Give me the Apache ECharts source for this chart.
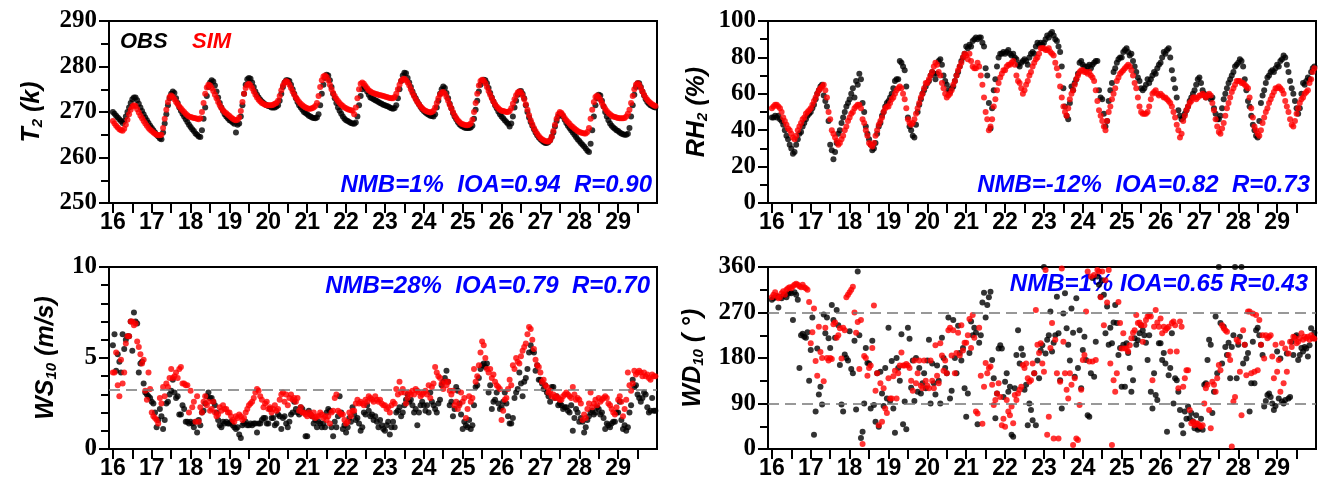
<!DOCTYPE html>
<html>
<head>
<meta charset="utf-8">
<script src="https://cdn.jsdelivr.net/npm/echarts@6/dist/echarts.min.js"></script>
<style>
  html, body { margin: 0; padding: 0; background: #fff; }
  #chart { width: 1325px; height: 494px; }
</style>
</head>
<body>
<div id="chart"></div>
<script>
// hourly series, first value at day 16 00:00
const startDay = 16
const dayLabels = [16, 17, 18, 19, 20, 21, 22, 23, 24, 25, 26, 27, 28, 29]
const halfDayTicks = [16, 16.5, 17, 17.5, 18, 18.5, 19, 19.5, 20, 20.5, 21, 21.5, 22, 22.5, 23, 23.5, 24, 24.5, 25, 25.5, 26, 26.5, 27, 27.5, 28, 28.5, 29, 29.5]

const t2Obs = [
  270, 269.6, 269.2, 268.8, 268.4, 268, 267.6, 268, 269, 270, 271, 272, 272.8, 273.2, 273.2, 272.6, 271.8, 271, 270.2, 269.5, 268.8, 268.2, 267.6, 267,
  266.5, 266, 265.5, 265, 264.6, 264.2, 264, 265.5, 267.5, 269.5, 271.5, 273, 274, 274.5, 274.2, 273, 272, 271, 270.3, 269.6, 269, 268.4, 267.8, 267.2,
  266.7, 266.2, 265.8, 265.3, 265, 264.6, 264.5, 266, 268.5, 271, 273.5, 275.5, 276.5, 277, 276.7, 275.8, 274.5, 273.2, 272, 271, 270.2, 269.5, 269, 268.6,
  268.2, 268, 267.7, 267.4, 265.5, 267.2, 267.5, 269, 271.5, 274, 276, 277.2, 277.5, 277.3, 276.5, 275.5, 274.5, 273.8, 273.2, 272.7, 272.3, 272, 271.7, 271.5,
  271.3, 271.2, 271, 271, 271, 271.2, 271.5, 272.5, 274, 275.5, 276.5, 277, 277, 276.8, 276, 275, 274, 273, 272.2, 271.5, 271, 270.5, 270, 269.8,
  269.5, 269.2, 269, 268.8, 268.7, 268.6, 268.8, 269.5, 271.5, 274, 276, 277.5, 278.2, 278, 277, 275.5, 274, 273, 272, 271, 270.3, 269.6, 269, 268.5,
  268.2, 268, 267.8, 267.6, 267.5, 267.4, 267.7, 269, 271.5, 273.5, 275, 275.6, 275.3, 274.5, 273.8, 273.2, 273, 272.8, 272.6, 272.4, 272.2, 272, 271.8, 271.6,
  271.5, 271.3, 271.2, 271, 270.8, 270.7, 270.9, 271.5, 273, 275, 276.8, 278, 278.6, 278.5, 277.5, 276.5, 275.5, 274.5, 273.7, 273, 272.3, 271.7, 271.1, 270.6,
  270.2, 269.9, 269.6, 269.4, 269.2, 269.1, 269, 269.5, 271, 272.5, 274, 275, 275.6, 275.3, 274.2, 273, 271.8, 270.8, 269.8, 269, 268.4, 267.8, 267.3, 267,
  266.8, 266.6, 266.5, 266.5, 266.5, 266.6, 267, 268.5, 270.5, 272.5, 274.5, 276, 276.8, 277.1, 277, 276.3, 275.3, 274.2, 273.2, 272.3, 271.5, 270.8, 270.1, 269.5,
  269, 268.6, 268.2, 267.8, 267.4, 266.8, 267.5, 269, 271, 272.5, 273.8, 274.5, 274.6, 274, 273, 271.5, 270, 268.8, 267.8, 267, 266.2, 265.5, 264.9, 264.4,
  264, 263.7, 263.4, 263.2, 263.2, 263.4, 263.8, 264.5, 265.5, 266.8, 268, 269, 269.6, 269.5, 269, 268.3, 267.6, 267, 266.5, 266, 265.5, 265, 264.5, 264,
  263.6, 263.2, 262.8, 262.4, 262, 261.5, 261.2, 263, 266, 269, 271.5, 273, 273.8, 273.6, 272.5, 271.2, 270, 269, 268.2, 267.5, 267, 266.6, 266.3, 266,
  265.8, 265.5, 265.3, 265.1, 265, 265, 265.2, 266.5, 269, 271.5, 273.8, 275.5, 276.3, 276.3, 275.5, 274.5, 273.6, 272.8, 272.2, 271.8, 271.5, 271.3, 271.1, 271
]
const t2Sim = [
  268, 267.5, 267, 266.6, 266.2, 266, 265.9, 266.3, 267.2, 268.3, 269.5, 270.5, 271.2, 271.5, 271.3, 270.6, 269.9, 269.2, 268.6, 268, 267.5, 267, 266.5, 266.1,
  265.8, 265.5, 265.2, 265, 264.9, 264.9, 265, 266.5, 268.5, 270.5, 272.2, 273.3, 273.6, 273.3, 272.8, 272.2, 271.7, 271.2, 270.8, 270.4, 270, 269.6, 269.3, 269,
  268.9, 268.8, 268.7, 268.6, 268.5, 268.4, 268.6, 270, 272, 274, 275.4, 276, 275.8, 275.3, 274.6, 273.8, 273, 272.2, 271.5, 270.9, 270.4, 270, 269.7, 269.4,
  269.1, 268.8, 268.5, 268.3, 268.2, 268.3, 268.8, 270.2, 272.2, 274, 275.3, 276, 276.2, 275.8, 275.2, 274.5, 273.8, 273.2, 272.7, 272.3, 272, 271.8, 271.6, 271.5,
  271.5, 271.5, 271.5, 271.6, 271.8, 272, 272.5, 273.5, 274.8, 275.8, 276.5, 276.8, 276.6, 276, 275.3, 274.5, 273.8, 273.2, 272.7, 272.2, 271.8, 271.5, 271.2, 271,
  270.8, 270.7, 270.7, 270.8, 271, 271.3, 272, 273.5, 275.5, 277, 277.8, 278, 277.7, 277, 276, 275, 274.2, 273.5, 272.9, 272.4, 272, 271.6, 271.3, 271,
  270.8, 270.6, 270.5, 270.4, 270.3, 269.5, 271, 273, 275, 276.2, 276.5, 276.2, 275.7, 275.2, 274.8, 274.5, 274.3, 274.1, 274, 273.9, 273.8, 273.7, 273.6, 273.5,
  273.4, 273.3, 273.2, 273.1, 273, 273, 273.3, 274, 275, 276, 276.8, 277.2, 277.3, 277, 276.5, 275.8, 275, 274.2, 273.5, 272.8, 272.2, 271.7, 271.2, 270.8,
  270.5, 270.3, 270.1, 270, 269.9, 270, 270.3, 271, 272, 273, 273.8, 274.3, 274.4, 274, 273.3, 272.5, 271.6, 270.8, 270, 269.3, 268.7, 268.2, 267.8, 267.5,
  267.3, 267.2, 267.1, 267.1, 267.2, 267.5, 268.3, 270, 272, 274, 275.8, 276.8, 277.1, 276.9, 276.3, 275.5, 274.6, 273.8, 273, 272.3, 271.7, 271.2, 270.8, 270.5,
  270.3, 270.2, 270.1, 270, 270, 270.2, 270.8, 271.8, 272.8, 273.7, 274.3, 274.5, 274.3, 273.7, 272.8, 271.7, 270.5, 269.3, 268.2, 267.3, 266.5, 265.8, 265.2, 264.7,
  264.3, 264, 263.8, 263.6, 263.5, 263.5, 263.8, 264.6, 265.8, 267.2, 268.5, 269.5, 270, 269.8, 269.3, 268.7, 268.2, 267.8, 267.4, 267, 266.7, 266.4, 266.1, 265.8,
  265.6, 265.5, 265.4, 265.3, 265.3, 265.6, 266.5, 268.5, 270.5, 272.2, 273.3, 273.6, 273.3, 272.7, 272, 271.3, 270.7, 270.2, 269.8, 269.5, 269.2, 269, 268.9, 268.8,
  268.7, 268.6, 268.6, 268.6, 268.7, 269, 269.6, 270.5, 272, 273.5, 275, 276, 276.3, 276, 275.3, 274.5, 273.8, 273.2, 272.7, 272.3, 272, 271.7, 271.5, 271.3
]

const rhObs = [
  47, 47, 48, 47, 48, 46, 45, 43, 40, 37, 35, 32, 30, 27, 28, 32, 35, 38, 39, 42, 44, 46, 48, 49,
  50, 52, 54, 57, 60, 62, 64, 65, 59, 56, 53, 45, 32, 29, 24, 28, 33, 38, 40, 44, 47, 50, 53, 55,
  57, 60, 63, 58, 67, 65, 71, 68, 55, 50, 42, 38, 35, 32, 29, 30, 33, 38, 42, 44, 48, 50, 53, 55,
  56, 58, 60, 63, 67, 68, 68, 78, 77, 75, 73, 64, 47, 42, 40, 37, 36, 43, 50, 54, 57, 60, 62, 64,
  66, 67, 70, 72, 71, 68, 71, 78, 79, 76, 70, 67, 65, 62, 61, 63, 64, 67, 70, 72, 75, 78, 80, 82,
  86, 85, 87, 86, 89, 90, 91, 90, 91, 91, 88, 86, 74, 70, 55, 41, 52, 62, 68, 75, 80, 82, 82, 83,
  82, 83, 84, 82, 81, 82, 80, 79, 76, 75, 77, 78, 79, 78, 76, 80, 82, 83, 82, 86, 88, 87, 88, 87,
  88, 90, 92, 91, 93, 94, 92, 90, 89, 86, 83, 75, 63, 53, 48, 46, 55, 64, 62, 66, 68, 71, 77, 78,
  76, 75, 73, 75, 76, 74, 76, 77, 78, 78, 62, 58, 57, 49, 42, 45, 56, 62, 66, 72, 74, 77, 79, 80,
  80, 83, 84, 85, 83, 81, 82, 78, 75, 72, 69, 67, 63, 62, 63, 65, 68, 66, 68, 70, 72, 71, 74, 76,
  77, 80, 83, 82, 84, 85, 80, 73, 68, 63, 58, 51, 48, 46, 47, 49, 51, 53, 56, 58, 60, 62, 65, 68,
  69, 66, 62, 60, 58, 59, 59, 57, 58, 52, 49, 46, 46, 48, 52, 57, 60, 63, 66, 68, 70, 72, 75, 76,
  77, 79, 78, 75, 68, 62, 56, 53, 48, 43, 40, 37, 36, 45, 55, 59, 62, 66, 69, 70, 72, 73, 72, 74,
  76, 75, 78, 79, 81, 80, 76, 72, 67, 63, 60, 56, 52, 49, 52, 60, 66, 65, 67, 69, 68, 72, 74, 75
]
const rhSim = [
  52, 53, 54, 54, 53, 52, 50, 47, 45, 43, 41, 40, 38, 36, 35, 37, 40, 42, 44, 46, 47, 49, 50, 51,
  52, 54, 56, 58, 60, 62, 63, 64, 65, 62, 58, 50, 46, 40, 38, 36, 34, 32, 33, 35, 37, 40, 42, 45,
  47, 49, 50, 52, 53, 54, 54, 52, 46, 44, 40, 37, 33, 32, 31, 33, 37, 40, 43, 45, 47, 50, 52, 53,
  53, 55, 57, 58, 60, 62, 63, 64, 63, 60, 57, 52, 46, 44, 43, 44, 46, 49, 52, 55, 58, 60, 63, 66,
  66, 68, 70, 72, 75, 77, 76, 72, 70, 66, 63, 60, 58, 59, 60, 62, 65, 67, 70, 73, 75, 77, 80, 82,
  81, 79, 82, 78, 75, 74, 74, 77, 75, 70, 65, 58, 50, 46, 40, 42, 46, 53, 57, 62, 66, 69, 71, 73,
  73, 75, 76, 76, 77, 78, 76, 70, 67, 66, 63, 60, 62, 65, 67, 70, 72, 75, 77, 79, 80, 82, 85, 85,
  85, 84, 84, 85, 83, 82, 81, 77, 74, 70, 64, 58, 53, 50, 48, 52, 57, 60, 62, 65, 68, 70, 72, 73,
  73, 72, 72, 71, 72, 70, 69, 67, 62, 56, 51, 48, 45, 42, 40, 45, 50, 53, 57, 60, 63, 67, 69, 71,
  72, 73, 74, 75, 76, 75, 73, 70, 66, 63, 58, 53, 50, 49, 49, 49, 50, 53, 57, 60, 61, 62, 60, 59,
  60, 59, 58, 58, 57, 56, 55, 53, 50, 47, 43, 40, 36, 38, 45, 48, 51, 53, 55, 56, 58, 58, 57, 58,
  59, 59, 60, 59, 58, 59, 60, 59, 55, 51, 46, 42, 39, 38, 41, 44, 48, 52, 55, 58, 61, 63, 65, 67,
  67, 67, 66, 66, 65, 64, 63, 58, 52, 47, 42, 40, 38, 37, 40, 44, 47, 50, 52, 55, 57, 59, 61, 63,
  63, 64, 63, 62, 60, 56, 53, 50, 46, 43, 42, 45, 49, 52, 55, 57, 58, 60, 61, 62, 66, 68, 72, 74
]

const wsObs = [
  5.7, 6.3, 4.3, 5.2, 4.8, 4.2, 6.3, 5.5, 6.0, 6.2, 6.2, 7.0, 5.4, 7.5, 7.0, 6.9, 4.2, 4.7, 4.8, 3.6, 3.1, 3.0, 2.9, 2.8,
  2.6, 2.5, 2.0, 1.2, 1.6, 2.2, 1.8, 1.1, 1.6, 2.5, 2.6, 3.0, 3.2, 3.8, 3.1, 2.8, 2.9, 1.9, 1.9, 2.4, 2.2, 1.5, 1.5, 1.4,
  1.5, 1.4, 1.2, 1.5, 0.9, 1.6, 1.3, 2.0, 2.1, 2.5, 2.9, 3.1, 2.8, 2.8, 2.6, 2.4, 2.0, 1.6, 1.3, 1.2, 1.5, 1.4, 1.5, 1.4,
  1.4, 1.5, 1.3, 1.2, 1.1, 1.2, 0.8, 0.6, 1.3, 1.4, 1.5, 1.3, 1.3, 1.4, 1.3, 1.4, 1.4, 0.9, 1.4, 1.4, 1.6, 1.7, 1.7, 1.4,
  1.4, 2.2, 1.7, 1.7, 1.3, 1.4, 1.9, 1.8, 1.1, 1.7, 1.8, 1.4, 1.2, 1.5, 1.9, 2.0, 2.6, 2.2, 2.0, 1.9, 2.3, 2.2, 2.0, 0.7,
  0.7, 2.1, 1.9, 1.8, 1.4, 1.6, 1.2, 1.5, 1.4, 1.2, 1.4, 1.2, 2.0, 2.2, 2.1, 1.2, 0.7, 1.5, 1.2, 1.8, 2.9, 2.0, 1.1, 1.3,
  0.9, 1.2, 1.7, 1.5, 2.3, 1.9, 1.6, 1.7, 1.4, 1.0, 1.2, 2.0, 1.9, 2.4, 2.1, 1.8, 1.9, 1.6, 1.8, 1.5, 1.2, 1.6, 1.3, 1.1,
  1.0, 1.3, 1.5, 0.8, 1.2, 1.5, 1.2, 2.0, 2.1, 2.3, 1.8, 2.0, 2.4, 2.7, 3.0, 2.6, 2.7, 2.4, 2.0, 2.2, 1.3, 2.0, 2.4, 2.6,
  2.4, 2.1, 2.4, 2.0, 3.1, 2.6, 2.4, 2.2, 2.0, 2.5, 2.7, 3.5, 3.7, 3.9, 4.3, 3.7, 2.4, 2.6, 1.8, 2.2, 3.4, 3.2, 2.5, 1.9,
  1.1, 1.5, 1.3, 1.2, 1.6, 1.1, 1.3, 2.4, 3.4, 3.5, 3.9, 4.4, 4.6, 4.7, 4.5, 4.7, 3.1, 3.5, 2.2, 2.6, 2.7, 3.1, 2.5, 2.2,
  2.3, 2.6, 3.1, 2.5, 1.8, 1.4, 1.4, 1.7, 2.8, 3.1, 3.3, 4.2, 3.6, 2.9, 3.7, 3.9, 4.4, 5.3, 5.7, 5.4, 5.3, 4.3, 4.6, 3.8,
  3.8, 3.6, 3.3, 3.5, 3.1, 2.9, 2.6, 3.4, 3.4, 2.8, 2.9, 2.4, 2.5, 2.4, 2.2, 2.3, 2.3, 2.1, 2.0, 2.4, 1.0, 1.7, 2.2, 2.0,
  1.5, 1.7, 1.5, 0.9, 1.2, 1.6, 1.8, 2.0, 2.1, 1.9, 2.0, 2.3, 2.2, 1.9, 2.0, 1.7, 1.1, 1.4, 1.3, 1.2, 1.4, 1.5, 1.5, 2.0,
  2.0, 2.6, 1.6, 1.1, 1.3, 1.0, 1.2, 2.0, 2.4, 3.8, 3.4, 3.5, 3.0, 2.8, 2.6, 2.8, 3.1, 3.0, 2.3, 2.0, 2.1, 2.8, 2.1, 2.1
]
const wsSim = [
  4.2, 4.2, 5.3, 3.5, 2.9, 4.9, 3.6, 4.2, 5.8, 6.2, 6.2, 7.0, 7.0, 6.8, 6.9, 5.9, 5.6, 5.2, 4.7, 4.9, 3.2, 2.7, 4.2, 3.3,
  2.0, 1.8, 1.7, 1.6, 1.4, 2.8, 2.5, 3.4, 2.9, 3.6, 3.4, 3.9, 4.4, 3.9, 4.0, 4.2, 3.9, 4.4, 4.5, 3.6, 3.6, 3.5, 3.5, 2.0,
  3.2, 2.3, 2.6, 1.5, 2.9, 1.5, 2.3, 2.0, 2.6, 2.9, 2.4, 2.6, 2.1, 2.2, 2.6, 2.0, 1.8, 1.9, 2.3, 2.1, 2.4, 2.2, 2.2, 2.0,
  2.0, 1.8, 1.6, 1.5, 1.8, 1.7, 1.9, 1.8, 1.6, 1.7, 2.0, 2.2, 2.4, 2.5, 2.6, 2.8, 3.1, 3.3, 3.2, 2.9, 2.7, 2.3, 2.5, 2.6,
  2.2, 2.3, 2.0, 2.2, 2.4, 2.1, 2.2, 2.7, 3.0, 3.1, 2.6, 3.0, 2.4, 2.8, 3.0, 2.7, 2.8, 2.6, 2.8, 2.1, 2.3, 2.0, 2.0, 1.9,
  1.8, 2.0, 1.9, 1.8, 2.0, 1.7, 1.8, 1.8, 2.0, 1.9, 1.7, 1.8, 1.6, 1.8, 1.4, 2.0, 2.1, 2.8, 3.0, 2.1, 2.0, 1.9, 1.9, 1.6,
  1.4, 1.5, 2.0, 1.8, 2.1, 2.1, 2.5, 2.7, 2.5, 2.6, 2.5, 2.4, 2.7, 2.6, 2.9, 2.8, 2.7, 2.6, 2.9, 2.7, 2.6, 2.7, 2.5, 2.4,
  2.4, 2.2, 2.3, 2.0, 2.4, 2.6, 2.5, 3.3, 3.0, 3.7, 3.1, 3.3, 3.1, 2.5, 2.8, 3.1, 3.0, 3.2, 3.0, 3.3, 3.2, 3.1, 2.9, 3.0,
  3.1, 3.2, 3.0, 3.5, 2.8, 3.4, 3.6, 4.5, 4.2, 4.0, 3.9, 3.6, 3.3, 3.7, 3.5, 3.7, 3.2, 3.0, 3.2, 2.4, 2.6, 2.2, 2.4, 3.1,
  2.6, 2.8, 1.7, 2.2, 2.9, 2.6, 2.8, 4.4, 3.7, 4.0, 4.6, 5.3, 5.9, 5.7, 5.0, 4.4, 4.2, 4.4, 3.9, 4.1, 3.7, 3.5, 3.4, 3.3,
  1.6, 2.1, 2.7, 2.8, 3.3, 3.8, 3.5, 4.6, 4.4, 5.0, 4.8, 4.7, 5.1, 5.4, 5.6, 5.8, 6.3, 6.7, 6.6, 6.0, 5.5, 4.9, 4.6, 4.5,
  4.2, 3.7, 3.8, 3.5, 3.4, 3.1, 3.2, 2.9, 3.0, 2.8, 2.9, 2.8, 2.7, 2.7, 2.9, 3.0, 3.1, 3.0, 2.9, 2.8, 3.4, 3.0, 2.7, 2.8,
  2.7, 2.5, 1.6, 1.9, 1.7, 2.2, 2.5, 3.1, 2.3, 2.5, 2.7, 2.4, 2.8, 2.6, 2.7, 2.8, 2.9, 2.8, 2.5, 2.4, 2.2, 2.0, 1.9, 2.3,
  2.7, 2.9, 2.6, 1.8, 2.2, 2.7, 4.2, 3.5, 3.2, 3.6, 4.3, 4.1, 4.2, 4.3, 4.2, 4.0, 4.2, 4.0, 4.1, 3.9, 3.8, 4.1, 4.0, 4.0
]

const wdObs = [
  295, 298, 300, 302, 280, 300, 298, 303, 305, 300, 307, 310, 308, 255, 310, 305, 295, 160, 225, 228, 222, 220, 231, 135,
  196, 260, 28, 74, 199, 108, 123, 88, 266, 229, 260, 219, 200, 285, 255, 220, 275, 245, 166, 88, 74, 187, 180, 175,
  233, 158, 150, 214, 78, 351, 225, 22, 34, 90, 200, 170, 169, 80, 214, 87, 54, 150, 44, 153, 110, 85, 160, 100,
  240, 95, 174, 80, 32, 180, 160, 135, 227, 49, 94, 39, 240, 218, 121, 175, 95, 180, 113, 160, 110, 130, 150, 120,
  175, 216, 90, 169, 130, 108, 165, 135, 90, 220, 180, 160, 150, 260, 100, 115, 255, 180, 150, 244, 190, 175, 200, 120,
  64, 110, 190, 252, 225, 240, 230, 49, 210, 225, 290, 309, 260, 285, 300, 311, 176, 140, 61, 110, 199, 205, 199, 103,
  133, 150, 113, 123, 28, 24, 120, 186, 235, 169, 199, 186, 117, 127, 47, 90, 77, 57, 150, 47, 175, 140, 195, 205,
  360, 189, 216, 225, 272, 193, 210, 225, 301, 229, 136, 80, 268, 308, 239, 206, 175, 278, 230, 143, 298, 160, 235, 120,
  196, 222, 176, 67, 64, 150, 338, 143, 212, 341, 325, 301, 334, 305, 229, 282, 206, 240, 209, 250, 285, 249, 186, 200,
  123, 206, 123, 209, 190, 160, 113, 136, 219, 206, 215, 229, 245, 235, 225, 210, 176, 225, 113, 80, 150, 107, 97, 209,
  209, 176, 190, 169, 34, 146, 160, 229, 90, 140, 136, 113, 77, 47, 31, 74, 60, 84, 61, 71, 55, 41, 67, 38,
  41, 60, 38, 127, 130, 176, 216, 206, 71, 113, 262, 150, 360, 249, 169, 242, 202, 186, 210, 140, 202, 225, 360, 140,
  206, 222, 360, 169, 206, 179, 190, 74, 130, 212, 130, 235, 240, 225, 206, 186, 84, 95, 107, 110, 103, 90, 77, 85,
  193, 100, 179, 94, 90, 97, 189, 100, 103, 212, 186, 222, 225, 176, 186, 200, 193, 202, 199, 183, 205, 239, 219, 230
]
const wdSim = [
  300, 305, 310, 303, 298, 300, 308, 312, 305, 315, 318, 320, 318, 322, 325, 327, 325, 322, 320, 325, 320, 318, 315, 291,
  209, 231, 278, 174, 145, 242, 192, 180, 134, 240, 180, 175, 180, 178, 247, 250, 220, 225, 239, 179, 240, 235, 300, 305,
  310, 315, 321, 270, 230, 251, 158, 255, 10, 184, 180, 145, 160, 165, 200, 284, 115, 150, 47, 130, 54, 120, 80, 71,
  140, 100, 100, 144, 155, 100, 150, 165, 191, 165, 165, 168, 165, 160, 135, 115, 175, 130, 150, 175, 125, 120, 175, 135,
  125, 120, 175, 135, 120, 205, 145, 130, 209, 185, 155, 175, 150, 235, 240, 185, 235, 150, 190, 230, 185, 245, 195, 210,
  210, 225, 257, 200, 265, 220, 74, 70, 240, 145, 50, 123, 170, 150, 160, 163, 127, 87, 97, 110, 130, 103, 47, 60,
  44, 97, 74, 67, 84, 51, 107, 97, 110, 117, 123, 166, 160, 169, 140, 133, 136, 169, 150, 275, 206, 190, 209, 169,
  153, 354, 28, 64, 200, 249, 21, 216, 150, 21, 133, 357, 212, 150, 117, 100, 150, 127, 8, 140, 21, 18, 87, 117,
  176, 186, 272, 351, 173, 341, 173, 344, 176, 354, 351, 300, 351, 245, 334, 290, 354, 169, 8, 136, 113, 150, 291, 249,
  199, 229, 199, 199, 193, 205, 219, 230, 235, 265, 249, 250, 245, 212, 245, 255, 262, 265, 262, 136, 242, 275, 250, 242,
  258, 229, 242, 235, 239, 242, 193, 249, 252, 245, 193, 120, 252, 242, 123, 140, 156, 156, 77, 51, 54, 47, 51, 50,
  47, 44, 47, 90, 120, 127, 77, 41, 133, 127, 113, 140, 166, 156, 245, 239, 235, 232, 186, 176, 5, 94, 103, 216,
  212, 153, 67, 235, 206, 146, 272, 272, 150, 268, 153, 265, 156, 255, 206, 225, 179, 225, 219, 222, 225, 183, 140, 206,
  153, 176, 113, 209, 130, 199, 153, 189, 212, 202, 222, 219, 209, 212, 219, 229, 216, 222, 219, 222, 216, 225, 220, 218
]

const statsText = [
  'NMB=1%  IOA=0.94  R=0.90',
  'NMB=-12%  IOA=0.82  R=0.73',
  'NMB=28%  IOA=0.79  R=0.70',
  'NMB=1% IOA=0.65 R=0.43'
]

const toPoints = arr => arr.map((v, i) => [startDay + i / 24, v])

const grids = [
  { left: 109, top: 21, width: 548, height: 182 },
  { left: 768, top: 21, width: 548, height: 182 },
  { left: 109, top: 267, width: 548, height: 182 },
  { left: 768, top: 267, width: 548, height: 182 }
]

const nameRich = {
  i: { fontFamily: 'Liberation Sans', fontStyle: 'italic', fontWeight: 'bold', fontSize: 25, color: '#000', lineHeight: 28, verticalAlign: 'bottom' },
  s: { fontFamily: 'Liberation Sans', fontStyle: 'italic', fontWeight: 'bold', fontSize: 15, color: '#000', lineHeight: 15, verticalAlign: 'bottom' }
}

function xAxisFor(i) {
  return {
    gridIndex: i, type: 'value', min: 15.9, max: 30,
    axisLine: { show: true, onZero: false, lineStyle: { color: '#000', width: 2 } },
    axisTick: { show: true, customValues: halfDayTicks, length: 10, lineStyle: { color: '#000', width: 2 } },
    axisLabel: { customValues: dayLabels, color: '#000', fontFamily: 'Liberation Sans', fontWeight: 'bold', fontSize: 23, margin: 8 },
    splitLine: { show: false }
  }
}

function yAxisFor(i, min, max, interval, minorSplit, name, gap) {
  return {
    gridIndex: i, type: 'value', min: min, max: max, interval: interval,
    name: name, nameLocation: 'middle', nameRotate: 90, nameGap: gap,
    nameTextStyle: { rich: nameRich },
    axisLine: { show: true, lineStyle: { color: '#000', width: 2 } },
    axisTick: { show: true, length: 10, lineStyle: { color: '#000', width: 2 } },
    minorTick: { show: true, splitNumber: minorSplit, length: 8, lineStyle: { color: '#000', width: 2 } },
    axisLabel: { color: '#000', fontFamily: 'Liberation Serif', fontWeight: 'bold', fontSize: 25, margin: 12 },
    splitLine: { show: false }, minorSplitLine: { show: false }
  }
}

function dots(i, data, color, extra) {
  return Object.assign({
    type: 'scatter', xAxisIndex: i, yAxisIndex: i,
    data: toPoints(data), symbol: 'circle', symbolSize: 6,
    itemStyle: { color: color }, silent: true
  }, extra || {})
}

function refLines(values) {
  return {
    markLine: {
      silent: true, symbol: 'none', label: { show: false },
      lineStyle: { type: [11, 6], color: '#777', width: 1.5 },
      data: values.map(v => ({ yAxis: v }))
    }
  }
}

const statFont = 'italic bold 24px "Liberation Sans"'

const chart = echarts.init(document.getElementById('chart'), null, { renderer: 'canvas' })
chart.setOption({
  animation: false,
  backgroundColor: '#fff',
  grid: grids.map(g => Object.assign({ show: true, borderColor: '#000', borderWidth: 2, containLabel: false }, g)),
  xAxis: [0, 1, 2, 3].map(xAxisFor),
  yAxis: [
    yAxisFor(0, 250, 290, 10, 2, '{i|T}{s|2}{i| (k)}', 64),
    yAxisFor(1, 0, 100, 20, 2, '{i|RH}{s|2}{i| (%)}', 58),
    yAxisFor(2, 0, 10, 5, 5, '{i|WS}{s|10}{i| (m/s)}', 50),
    yAxisFor(3, 0, 360, 90, 2, '{i|WD}{s|10}{i| ( °)}', 62)
  ],
  series: [
    dots(0, t2Obs, '#000'), dots(0, t2Sim, '#ff0000'),
    dots(1, rhObs, '#000'), dots(1, rhSim, '#ff0000'),
    dots(2, wsObs, '#000', refLines([3.25])), dots(2, wsSim, '#ff0000'),
    dots(3, wdObs, '#000', refLines([90, 270])), dots(3, wdSim, '#ff0000')
  ],
  graphic: [
    { type: 'text', left: 120, top: 31, style: { text: 'OBS', font: 'italic bold 22px "Liberation Sans"', fill: '#000' } },
    { type: 'text', left: 192, top: 31, style: { text: 'SIM', font: 'italic bold 22px "Liberation Sans"', fill: '#ff0000' } },
    { type: 'text', right: 673, top: 173, style: { text: statsText[0], font: statFont, fill: '#0000ff' } },
    { type: 'text', right: 15, top: 173, style: { text: statsText[1], font: statFont, fill: '#0000ff' } },
    { type: 'text', right: 675, top: 274, style: { text: statsText[2], font: statFont, fill: '#0000ff' } },
    { type: 'text', right: 17, top: 272, style: { text: statsText[3], font: statFont, fill: '#0000ff' } }
  ]
})
</script>
</body>
</html>
